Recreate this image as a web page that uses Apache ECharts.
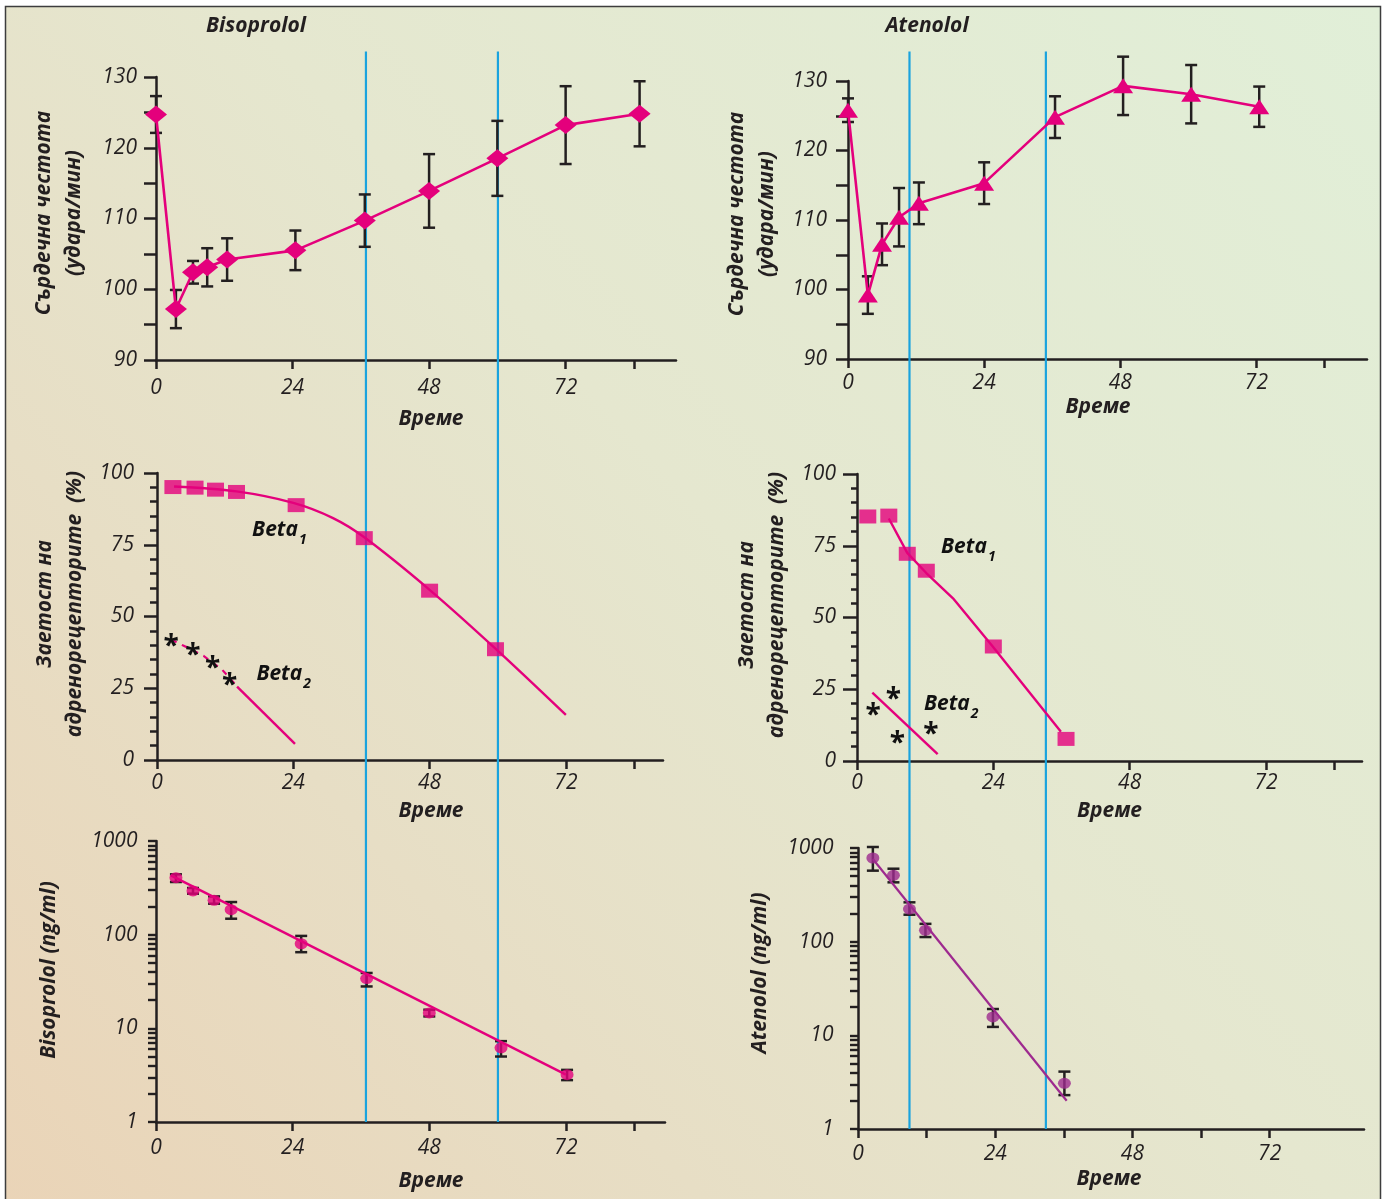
<!DOCTYPE html>
<html><head><meta charset="utf-8">
<script src="https://cdn.jsdelivr.net/npm/echarts@6/dist/echarts.min.js"></script>
<style>html,body{margin:0;padding:0;background:#fff}#c{width:1382px;height:1199px}</style>
</head><body><div id="c"></div>
<script>
// ---------------- DATA ----------------
const xTickLabels = [0, 24, 48, 72];
// Heart rate, Bisoprolol
const hrBisoTime = [0, 3.5, 6.5, 9, 12.5, 24.5, 36.7, 48, 60, 72, 85];
const hrBisoMean = [124.7, 97.2, 102.4, 103.1, 104.2, 105.5, 109.7, 113.9, 118.5, 123.2, 124.8];
const hrBisoErr  = [2.6, 2.7, 1.6, 2.7, 3.0, 2.8, 3.7, 5.2, 5.3, 5.5, 4.6];
// Heart rate, Atenolol
const hrAtenTime = [0, 3.5, 6, 9, 12.5, 24, 36.5, 48.5, 60.5, 72.5];
const hrAtenMean = [125.8, 99.2, 106.5, 110.4, 112.4, 115.3, 124.8, 129.3, 128.1, 126.3];
const hrAtenErr  = [1.7, 2.7, 3.0, 4.2, 3.0, 3.0, 3.0, 4.2, 4.2, 2.9];
// Receptor occupancy, Bisoprolol
const occBisoTime  = [2.8, 6.7, 10.3, 14, 24.5, 36.5, 48, 59.6];
const occBisoBeta1 = [95.1, 94.9, 94.2, 93.4, 88.8, 77.3, 59.0, 38.6];
const fitBisoBeta1Time = [3, 14, 24, 31, 36.5, 48, 59.6, 72];
const fitBisoBeta1     = [95.3, 93.6, 89.6, 84.3, 77.6, 59.3, 38.8, 15.7];
const starBisoTime  = [2.5, 6.3, 9.8, 12.8];
const starBisoBeta2 = [41.9, 38.7, 34.1, 28.1];
const fitBisoBeta2DashTime = [2.5, 4.7, 8.2, 11.5, 14.1];
const fitBisoBeta2Dash     = [42, 39.8, 36.3, 31.4, 25.6];
const fitBisoBeta2SolidTime = [14.1, 24.3];
const fitBisoBeta2Solid     = [25.6, 5.6];
// Receptor occupancy, Atenolol
const occAtenTime  = [1.9, 5.6, 8.85, 12.2, 24, 36.8];
const occAtenBeta1 = [85.2, 85.5, 72.2, 66.3, 39.9, 7.7];
const fitAtenBeta1Time = [5.6, 8.85, 12.2, 16.9, 24, 35.9];
const fitAtenBeta1     = [84.5, 72.5, 65.5, 56.7, 39.6, 10.2];
const starAtenTime  = [6.4, 2.85, 7.1, 13.0];
const starAtenBeta2 = [23.7, 18.1, 8.4, 11.5];
const fitAtenBeta2Time = [2.7, 14.2];
const fitAtenBeta2     = [23.8, 2.4];
// Plasma concentration (ng/ml)
const concBisoTime = [3.5, 6.5, 10.2, 13.2, 25.5, 37, 48, 60.6, 72.2];
const concBiso     = [406, 293, 233, 185, 80, 34, 14.6, 6.2, 3.2];
const concBisoLow  = [365, 274, 214, 148, 65, 28, 13.4, 5.0, 2.8];
const concBisoHigh = [441, 315, 256, 223, 97, 39, 15.8, 7.3, 3.6];
const fitBisoConcTime = [2.6, 72];
const fitBisoConc     = [430, 3.2];
const concAtenTime = [2.6, 6.2, 9.0, 11.8, 23.6, 36.1];
const concAten     = [782, 511, 223, 132, 15.7, 3.07];
const concAtenLow  = [573, 430, 194, 112, 12.3, 2.3];
const concAtenHigh = [1025, 601, 263, 155, 19.1, 4.1];
const fitAtenConcTime = [2.6, 36.5];
const fitAtenConc     = [763, 2.0];
// vertical reference times
const bisoRefTimes = [36.9, 60.1];
const atenRefTimes = [9.24, 33.25];

// ---------------- STYLE ----------------
const ink = '#231F20', pink = '#E4007C', purple = '#9E2A8F', blue = '#1AA3DE';
const tickFont = {fontFamily: 'Open Sans', fontStyle: 'italic', fontSize: 21, color: ink};
const nameFont = {fontFamily: 'Open Sans', fontStyle: 'italic', fontWeight: 'bold', fontSize: 21, color: ink};
const zip = (a, b) => a.map((v, i) => [v, b[i]]);
const lg = v => Math.log10(v);

const grids = [
  {left: 156, top: 77, width: 520, height: 283},
  {left: 848, top: 81, width: 519, height: 278},
  {left: 157, top: 473, width: 506, height: 287},
  {left: 857, top: 474, width: 505, height: 287},
  {left: 156, top: 841, width: 509, height: 281},
  {left: 858, top: 848, width: 506, height: 281}
].map(g => Object.assign(g, {containLabel: false, outerBoundsMode: 'none'}));

function xAx(gi, max, ticks, margin, gap, pad) {
  return {
    type: 'value', gridIndex: gi, min: 0, max: max,
    axisLine: {show: true, onZero: false, lineStyle: {color: ink, width: 2.5}},
    axisTick: {show: true, length: 9, customValues: ticks, lineStyle: {color: ink, width: 2.5}},
    axisLabel: Object.assign({}, tickFont, {margin: margin, customValues: xTickLabels}),
    splitLine: {show: false},
    name: 'Време', nameLocation: 'middle', nameGap: gap,
    nameTextStyle: Object.assign({}, nameFont, {lineHeight: 24, padding: pad})
  };
}
function yLin(gi, min, max, interval, minorSplit, tickLen, minorLen, margin, name, gap, pad) {
  return {
    type: 'value', gridIndex: gi, min: min, max: max, interval: interval,
    axisLine: {show: true, onZero: false, lineStyle: {color: ink, width: 2.5}},
    axisTick: {show: true, length: tickLen, lineStyle: {color: ink, width: 2.5}},
    minorTick: {show: true, splitNumber: minorSplit, length: minorLen, lineStyle: {color: ink, width: 2.5}},
    axisLabel: Object.assign({}, tickFont, {margin: margin}),
    splitLine: {show: false}, minorSplitLine: {show: false},
    name: name, nameLocation: 'middle', nameRotate: 90, nameGap: gap,
    nameTextStyle: Object.assign({}, nameFont, {lineHeight: 30, padding: pad})
  };
}
// tick positions of a log10 axis (decades and 2..9 sub-ticks), in log10 units
const logTicks = [];
for (let d = 0; d <= 3; d++) {
  logTicks.push(d);
  if (d < 3) for (let k = 2; k <= 9; k++) logTicks.push(d + Math.log10(k));
}
function yLog(gi, margin, name, gap, pad) {
  return {
    type: 'value', gridIndex: gi, min: 0, max: 3, interval: 1,
    axisLine: {show: true, onZero: false, lineStyle: {color: ink, width: 2.5}},
    axisTick: {show: true, length: 8, customValues: logTicks, lineStyle: {color: ink, width: 2.4}},
    axisLabel: Object.assign({}, tickFont, {margin: margin, formatter: v => String(Math.round(Math.pow(10, v)))}),
    splitLine: {show: false},
    name: name, nameLocation: 'middle', nameRotate: 90, nameGap: gap,
    nameTextStyle: Object.assign({}, nameFont, {lineHeight: 30, padding: pad})
  };
}

const hrName = 'Сърдечна честота\n(удара/мин)';
const occName = 'Заетост на\nадренорецепторите  (%)';

const xAxes = [
  xAx(0, 91.4, [0, 24, 48, 72, 84], 18, 47, [0, 0, 0, 30]),
  xAx(1, 91.5, [0, 24, 48, 72, 84], 14, 35.5, [0, 19, 0, 0]),
  xAx(2, 89.1, [0, 24, 48, 72, 84], 13, 39, [0, 0, 0, 42]),
  xAx(3, 88.9, [0, 24, 48, 72, 84], 12, 38, [0, 0, 0, 0]),
  xAx(4, 89.4, [0, 24, 48, 72, 84], 15.5, 47, [0, 0, 0, 41]),
  xAx(5, 88.5, [0, 12, 24, 36, 48, 60, 72], 14.5, 38, [0, 4, 0, 0])
];
const yAxes = [
  yLin(0, 90, 130, 10, 2, 12, 12, 19, hrName, 67, [0, 0, 0, 11]),
  yLin(1, 90, 130, 10, 2, 12, 12, 21, hrName, 66, [0, 0, 0, 12]),
  yLin(2, 0, 100, 25, 5, 13, 7, 23, occName, 67, [0, 0, 0, 25]),
  yLin(3, 0, 100, 25, 5, 14, 6, 21, occName, 65, [0, 0, 0, 25]),
  yLog(4, 18.5, 'Bisoprolol (ng/ml)', 92, [0, 0, 0, 23]),
  yLog(5, 24.5, 'Atenolol (ng/ml)', 82.5, [0, 0, 0, 31])
];

function errBars(xi, yi, times, lo, hi, cap) {
  return {
    type: 'custom', xAxisIndex: xi, yAxisIndex: yi, z: 3, silent: true, clip: false,
    data: times.map((t, i) => [t, lo[i], hi[i]]),
    encode: {x: 0, y: [1, 2]},
    renderItem(params, api) {
      const a = api.coord([api.value(0), api.value(1)]);
      const b = api.coord([api.value(0), api.value(2)]);
      const st = {stroke: ink, lineWidth: 2.5, fill: null};
      return {type: 'group', children: [
        {type: 'line', shape: {x1: a[0], y1: a[1], x2: b[0], y2: b[1]}, style: st},
        {type: 'line', shape: {x1: a[0] - cap, y1: a[1], x2: a[0] + cap, y2: a[1]}, style: st},
        {type: 'line', shape: {x1: b[0] - cap, y1: b[1], x2: b[0] + cap, y2: b[1]}, style: st}
      ]};
    }
  };
}
function fitLine(xi, yi, data, color, width, extra) {
  return Object.assign({
    type: 'line', xAxisIndex: xi, yAxisIndex: yi, data: data, symbol: 'none', clip: false,
    lineStyle: {color: color, width: width}, z: 3, silent: true
  }, extra || {});
}
function stars(xi, yi, data) {
  return {
    type: 'scatter', xAxisIndex: xi, yAxisIndex: yi, data: data, symbolSize: 0,
    itemStyle: {color: ink, opacity: 1}, z: 6, silent: true,
    label: {show: true, position: 'inside', formatter: '*', color: '#111', opacity: 1,
      textBorderWidth: 0, textShadowBlur: 0,
      fontFamily: 'Open Sans', fontWeight: 'bold', fontSize: 28, offset: [0, 7]}
  };
}
function betaLabel(xi, yi, pos, sub) {
  return {
    type: 'scatter', xAxisIndex: xi, yAxisIndex: yi, data: [pos], symbolSize: 0,
    itemStyle: {color: ink, opacity: 1}, z: 6, silent: true,
    label: {show: true, position: 'inside', align: 'left', verticalAlign: 'middle',
      opacity: 1, textBorderWidth: 0, color: '#111',
      formatter: '{a|Beta}{s|' + sub + '}',
      rich: {
        a: Object.assign({}, nameFont, {fontSize: 21, lineHeight: 34, color: '#111', textBorderWidth: 0}),
        s: Object.assign({}, nameFont, {fontSize: 14, lineHeight: 14, verticalAlign: 'bottom', padding: [0, 0, 0, 1], color: '#111', textBorderWidth: 0})
      }}
  };
}

const series = [
  // Top-left: heart rate bisoprolol
  errBars(0, 0, hrBisoTime, hrBisoMean.map((m, i) => m - hrBisoErr[i]), hrBisoMean.map((m, i) => m + hrBisoErr[i]), 6),
  {type: 'line', xAxisIndex: 0, yAxisIndex: 0, data: zip(hrBisoTime, hrBisoMean), clip: false,
    symbol: 'diamond', symbolSize: [22, 18], lineStyle: {color: pink, width: 2.6}, itemStyle: {color: pink}, z: 5},
  // Top-right: heart rate atenolol
  errBars(1, 1, hrAtenTime, hrAtenMean.map((m, i) => m - hrAtenErr[i]), hrAtenMean.map((m, i) => m + hrAtenErr[i]), 6),
  {type: 'line', xAxisIndex: 1, yAxisIndex: 1, data: zip(hrAtenTime, hrAtenMean), clip: false,
    symbol: 'triangle', symbolSize: [20, 15], lineStyle: {color: pink, width: 2.6}, itemStyle: {color: pink}, z: 5},
  // Middle-left: occupancy bisoprolol
  fitLine(2, 2, zip(fitBisoBeta1Time, fitBisoBeta1), pink, 2.4, {smooth: 0.35}),
  {type: 'scatter', xAxisIndex: 2, yAxisIndex: 2, data: zip(occBisoTime, occBisoBeta1),
    symbol: 'rect', symbolSize: [17, 14], itemStyle: {color: pink}, z: 5},
  fitLine(2, 2, zip(fitBisoBeta2DashTime, fitBisoBeta2Dash), pink, 2.2, {lineStyle: {color: pink, width: 2.2, type: [6, 6]}}),
  fitLine(2, 2, zip(fitBisoBeta2SolidTime, fitBisoBeta2Solid), pink, 2.4),
  stars(2, 2, zip(starBisoTime, starBisoBeta2)),
  betaLabel(2, 2, [16.75, 80.1], '1'),
  betaLabel(2, 2, [17.5, 30.1], '2'),
  // Middle-right: occupancy atenolol
  fitLine(3, 3, zip(fitAtenBeta1Time, fitAtenBeta1), pink, 2.4),
  {type: 'scatter', xAxisIndex: 3, yAxisIndex: 3, data: zip(occAtenTime, occAtenBeta1),
    symbol: 'rect', symbolSize: [17, 14], itemStyle: {color: pink}, z: 5},
  fitLine(3, 3, zip(fitAtenBeta2Time, fitAtenBeta2), pink, 2.4),
  stars(3, 3, zip(starAtenTime, starAtenBeta2)),
  betaLabel(3, 3, [14.8, 74.4], '1'),
  betaLabel(3, 3, [11.8, 19.9], '2'),
  // Bottom-left: bisoprolol concentration (log10 scale)
  fitLine(4, 4, zip(fitBisoConcTime, fitBisoConc.map(lg)), pink, 2.4),
  errBars(4, 4, concBisoTime, concBisoLow.map(lg), concBisoHigh.map(lg), 6),
  {type: 'scatter', xAxisIndex: 4, yAxisIndex: 4, data: zip(concBisoTime, concBiso.map(lg)),
    symbol: 'circle', symbolSize: [13, 11], itemStyle: {color: pink}, z: 5},
  // Bottom-right: atenolol concentration (log10 scale)
  fitLine(5, 5, zip(fitAtenConcTime, fitAtenConc.map(lg)), purple, 2.2),
  errBars(5, 5, concAtenTime, concAtenLow.map(lg), concAtenHigh.map(lg), 6),
  {type: 'scatter', xAxisIndex: 5, yAxisIndex: 5, data: zip(concAtenTime, concAten.map(lg)),
    symbol: 'circle', symbolSize: [13, 11], itemStyle: {color: purple}, z: 5}
];

const chart = echarts.init(document.getElementById('c'), null, {renderer: 'canvas'});
chart.setOption({
  animation: false,
  backgroundColor: '#ffffff',
  grid: grids, xAxis: xAxes, yAxis: yAxes, series: series
});

// Background panel, titles and vertical reference lines (positioned through the axes)
const xb = bisoRefTimes.map(t => chart.convertToPixel({xAxisIndex: 0}, t));
const xa = atenRefTimes.map(t => chart.convertToPixel({xAxisIndex: 3}, t));
const yTop = chart.convertToPixel({yAxisIndex: 0}, 133.6);
const yBotL = chart.convertToPixel({yAxisIndex: 4}, 0);
const yBotR = chart.convertToPixel({yAxisIndex: 5}, 0);

const graphics = [
  {type: 'rect', z: -100, silent: true, shape: {x: 5.5, y: 6.5, width: 1375, height: 1260},
    style: {
      fill: new echarts.graphic.LinearGradient(0, 1, 1, 0, [
        {offset: 0, color: '#EAD3B6'},
        {offset: 0.3, color: '#E7DEC5'},
        {offset: 0.55, color: '#E5E7CF'},
        {offset: 1, color: '#E1EFD8'}
      ]),
      stroke: '#3d3d3d', lineWidth: 1.5
    }},
  {type: 'text', z: 10, x: 256, y: 26, style: {text: 'Bisoprolol', align: 'center', verticalAlign: 'middle', fill: ink, font: 'italic bold 21px "Open Sans"'}},
  {type: 'text', z: 10, x: 927, y: 26, style: {text: 'Atenolol', align: 'center', verticalAlign: 'middle', fill: ink, font: 'italic bold 21px "Open Sans"'}}
];
xb.forEach(x => graphics.push({type: 'line', z: 1, silent: true,
  shape: {x1: x, y1: yTop, x2: x, y2: yBotL}, style: {stroke: blue, lineWidth: 2.2}}));
xa.forEach(x => graphics.push({type: 'line', z: 1, silent: true,
  shape: {x1: x, y1: yTop, x2: x, y2: yBotR}, style: {stroke: blue, lineWidth: 2.2}}));
chart.setOption({graphic: graphics});
</script></body></html>
